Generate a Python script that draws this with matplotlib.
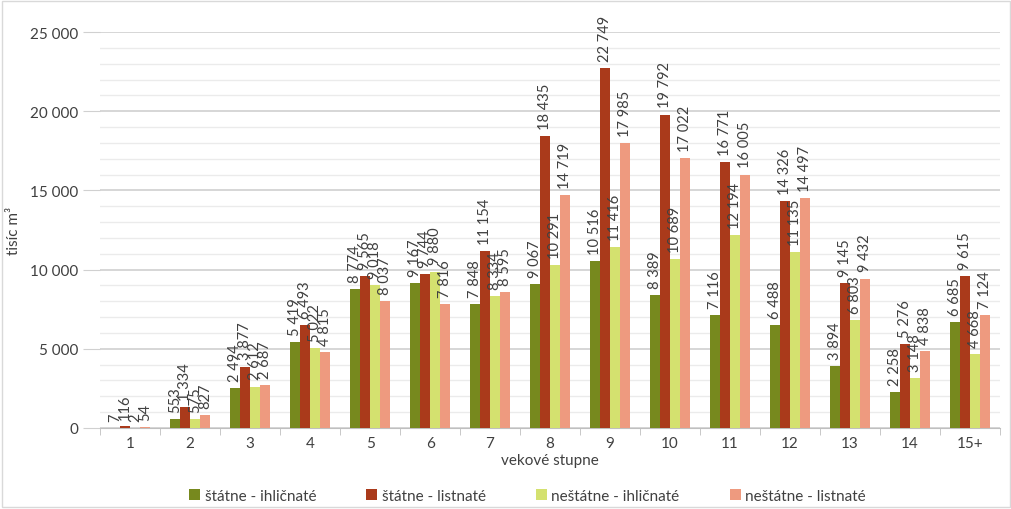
import numpy as np
import matplotlib
matplotlib.use("Agg")
import matplotlib.pyplot as plt
from matplotlib.ticker import MultipleLocator, FuncFormatter

plt.rcParams['font.family'] = ['Lato', 'DejaVu Sans']

# data (tisíc m3)
stupne = ['1', '2', '3', '4', '5', '6', '7', '8', '9', '10', '11', '12', '13', '14', '15+']
statne_ihl = [7, 553, 2494, 5419, 8774, 9167, 7848, 9067, 10516, 8389, 7116, 6488, 3894, 2258, 6685]
statne_list = [116, 1334, 3877, 6493, 9565, 9744, 11154, 18435, 22749, 19792, 16771, 14326, 9145, 5276, 9615]
nestatne_ihl = [2, 575, 2612, 5022, 9018, 9880, 8334, 10291, 11416, 10689, 12194, 11135, 6803, 3148, 4668]
nestatne_list = [54, 827, 2687, 4815, 8037, 7816, 8595, 14719, 17985, 17022, 16005, 14497, 9432, 4838, 7124]

series = [
    ('štátne - ihličnaté', statne_ihl, '#77891E'),
    ('štátne - listnaté', statne_list, '#AA3A1B'),
    ('neštátne - ihličnaté', nestatne_ihl, '#D4E16F'),
    ('neštátne - listnaté', nestatne_list, '#EE9A7F'),
]

def fmt(v, pos=None):
    return f"{int(v):,}".replace(',', ' ')

fig = plt.figure(figsize=(10.12, 5.10), dpi=100)
ax = fig.add_axes([0.099, 0.159, 0.889, 0.776])

x = np.arange(len(stupne))
w = 0.167
for i, (name, vals, col) in enumerate(series):
    pos = x + (i - 1.5) * w
    bars = ax.bar(pos, vals, width=w, color=col, label=name, zorder=3)
    for b, v in zip(bars, vals):
        ax.text(b.get_x() + b.get_width() / 2, v + 450, fmt(v), rotation=90,
                ha='center', va='bottom', fontsize=10.5, color='#404040', zorder=4)

ax.set_xlim(-0.5, len(stupne) - 0.5)
ax.set_ylim(0, 25000)
ax.yaxis.set_major_locator(MultipleLocator(5000))
ax.yaxis.set_minor_locator(MultipleLocator(1000))
ax.yaxis.set_major_formatter(FuncFormatter(fmt))
ax.grid(axis='y', which='major', color='#D0D0D0', linewidth=1.2, zorder=0)
ax.grid(axis='y', which='minor', color='#EBEBEB', linewidth=1.0, zorder=0)

ax.set_xticks(x)
ax.set_xticklabels(stupne)
ax.set_xticks(np.arange(-0.5, len(stupne), 1), minor=True)
ax.tick_params(axis='x', which='major', length=0, labelsize=11, colors='#404040', pad=6)
ax.tick_params(axis='x', which='minor', length=5, color='#BFBFBF')
ax.tick_params(axis='y', which='major', length=12, color='#D0D0D0', labelsize=11, labelcolor='#404040', pad=4)
ax.tick_params(axis='y', which='minor', length=0)

for s in ['top', 'right', 'left']:
    ax.spines[s].set_visible(False)
ax.spines['bottom'].set_color('#BFBFBF')

ax.set_xlabel('vekové stupne', fontsize=11, color='#404040', labelpad=2)
ax.set_ylabel('tisíc m³', fontsize=11, color='#404040', labelpad=6)

ax.legend(loc='upper center', bbox_to_anchor=(0.475, -0.12), ncol=4, frameon=False,
          fontsize=11, handlelength=0.7, handleheight=0.7, handletextpad=0.3,
          columnspacing=3.3, labelcolor='#404040')

fig.patches.append(plt.Rectangle((0.002, 0.003), 0.996, 0.994, transform=fig.transFigure,
                                 fill=False, edgecolor='#D9D9D9', linewidth=1))

fig.savefig('out.png', dpi=100)
